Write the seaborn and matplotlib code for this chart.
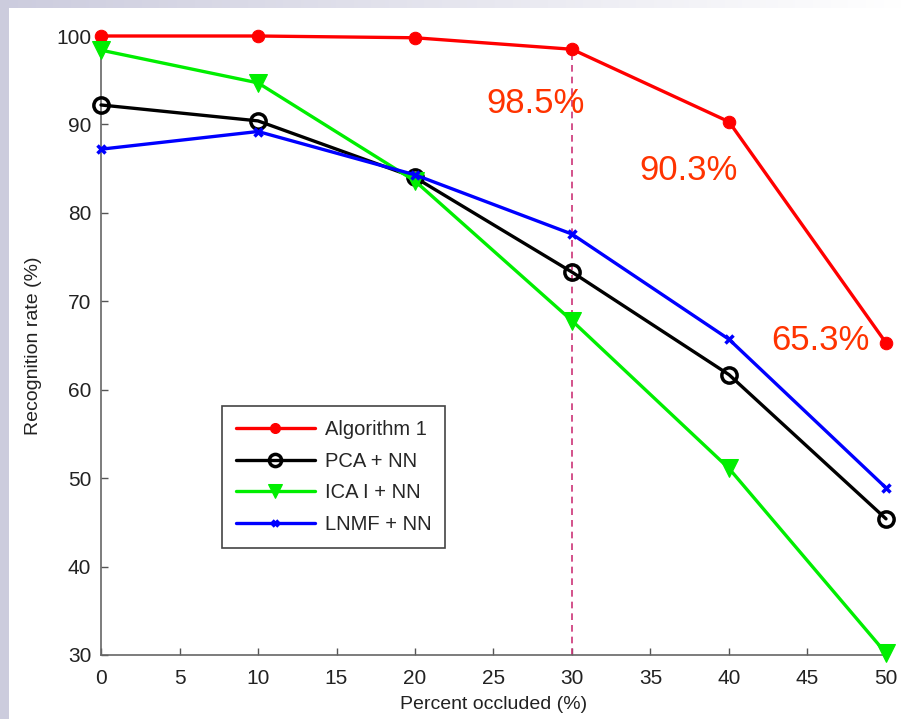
import numpy as np
import pandas as pd
import matplotlib
matplotlib.use("Agg")
import matplotlib.pyplot as plt
import seaborn as sns

occluded = [0, 10, 20, 30, 40, 50]
alg1 = [100.0, 100.0, 99.8, 98.5, 90.3, 65.3]
pca_nn = [92.2, 90.4, 84.0, 73.3, 61.7, 45.4]
ica_nn = [98.4, 94.7, 83.6, 67.8, 51.1, 30.2]
lnmf_nn = [87.2, 89.2, 84.3, 77.6, 65.7, 48.9]
series_names = ["Algorithm 1", "PCA + NN", "ICA I + NN", "LNMF + NN"]
annot_x = [30, 40, 50]
annot_vals = [98.5, 90.3, 65.3]
annot_labels = ["98.5%", "90.3%", "65.3%"]
annot_pos = [(27.7, 92.4), (37.4, 84.8), (45.8, 65.6)]
xticks = list(range(0, 55, 5))
yticks = list(range(30, 110, 10))

sns.set_theme(style="white")
plt.rcParams['font.family'] = ['Liberation Sans', 'DejaVu Sans']

W, H = 902, 719
fig = plt.figure(figsize=(W / 100, H / 100), dpi=100)
fig.patch.set_facecolor("white")

# slide-like background: grey strip at left, gradient strip on top
bg = fig.add_axes([0, 0, 1, 1], zorder=-10)
img = np.ones((H, W, 3))
left_col = np.array([0.80, 0.80, 0.87])
grad = np.linspace(0, 1, W)[:, None]
top = left_col * (1 - grad) + np.array([1, 1, 1]) * grad
img[:8, :, :] = top[None, :, :]
img[:, :9, :] = left_col
bg.imshow(img, aspect="auto", extent=[0, W, H, 0])
bg.set_axis_off()

ax = fig.add_axes([101 / W, 1 - 655 / H, 785 / W, (655 - 36) / H])
ax.set_facecolor("none")

specs = [
    (alg1, dict(color="#ff0000", marker="o", markersize=9, markerfacecolor="#ff0000", markeredgecolor="#ff0000")),
    (pca_nn, dict(color="black", marker="o", markersize=11, markerfacecolor="none", markeredgecolor="black", markeredgewidth=2.5)),
    (ica_nn, dict(color="#00ee00", marker="v", markersize=13, markerfacecolor="#00ee00", markeredgecolor="#00ee00")),
    (lnmf_nn, dict(color="#0000ff", marker="x", markersize=6, markeredgewidth=2.5, markeredgecolor="#0000ff")),
]
for (vals, kw), name in zip(specs, series_names):
    df = pd.DataFrame({"x": occluded, "y": vals})
    sns.lineplot(data=df, x="x", y="y", ax=ax, label=name, linewidth=2.4, clip_on=False, zorder=3, **kw)

ax.vlines(annot_x[0], 30, annot_vals[0], colors="#cc3377", linestyles=(0, (4, 3)), linewidth=1.2, zorder=2)

for (tx, ty), lab in zip(annot_pos, annot_labels):
    ax.text(tx, ty, lab, color="#ff3300", fontsize=25, ha="center", va="center", zorder=5)

ax.set_xlim(0, 50)
ax.set_ylim(30, 100)
ax.set_xticks(xticks)
ax.set_yticks(yticks)
ax.tick_params(direction="in", length=5, width=1, color="#555555", labelsize=15, labelcolor="#222222",
               bottom=True, left=True)
ax.tick_params(axis="x", pad=10)
ax.tick_params(axis="y", pad=7)
for s in ["top", "right"]:
    ax.spines[s].set_visible(False)
for s in ["left", "bottom"]:
    ax.spines[s].set_color("#666666")
    ax.spines[s].set_linewidth(1.2)
ax.set_xlabel("Percent occluded (%)", fontsize=14, color="#222222", labelpad=6)
ax.set_ylabel("Recognition rate (%)", fontsize=14, color="#222222", labelpad=10)

leg = ax.legend(loc="lower left", bbox_to_anchor=(0.154, 0.173), borderaxespad=0, fontsize=14.5,
                handlelength=3.9, markerscale=0.8,
                frameon=True, fancybox=False, borderpad=0.7, labelspacing=0.62, handletextpad=0.5)
leg.get_frame().set_edgecolor("#444444")
leg.get_frame().set_linewidth(1.2)
leg.get_frame().set_facecolor("white")
leg.get_frame().set_alpha(1)

fig.savefig("out.png", dpi=100, facecolor=fig.get_facecolor())
